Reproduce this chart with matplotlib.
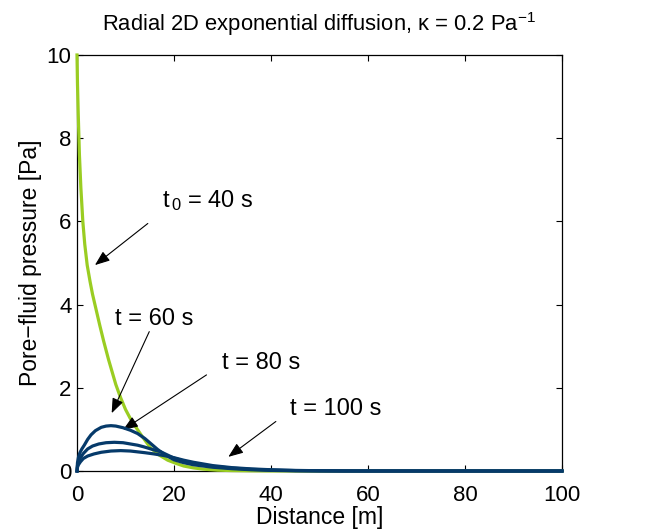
import matplotlib
matplotlib.use("Agg")
import matplotlib.pyplot as plt

# ─── Data ─────────────────────────────────────────────────────
green_x = [0, 0.1, 0.25, 0.5, 0.8, 1.2, 1.6, 2.1, 2.7, 3.2, 3.9,
           4.7, 5.5, 6.5, 8.0, 9.0, 10.0, 11.0, 12.1, 13.5, 15.2, 17.0, 18.7,
           20.5, 22.0, 24.0, 26.0, 29.0, 32.0, 36.0, 40.0, 50.0, 100.0]
green_y = [10.0, 9.3, 8.6, 7.6, 6.8, 6.0, 5.45, 4.95, 4.55, 4.25, 3.9,
           3.5, 3.12, 2.68, 2.08, 1.76, 1.48, 1.26, 1.06, 0.82, 0.55, 0.38, 0.26,
           0.18, 0.12, 0.075, 0.045, 0.02, 0.01, 0.004, 0.001, 0.0, 0.0]

t60_x = [0, 0.1, 0.3, 0.6, 1.0, 1.5, 2.2, 2.9, 3.8, 5.0, 6.0, 7.0, 8.0, 9.5,
         11.0, 12.5, 14.0, 15.5, 16.6, 18.0, 20.0, 22.0, 24.0, 28.0, 32.0,
         36.0, 40.0, 45.0, 55.0, 100.0]
t60_y = [0.0, 0.2, 0.33, 0.44, 0.53, 0.62, 0.76, 0.87, 0.97, 1.05, 1.08, 1.09,
         1.08, 1.04, 0.98, 0.9, 0.78, 0.63, 0.52, 0.4, 0.27, 0.2, 0.15, 0.09,
         0.055, 0.03, 0.015, 0.005, 0.0, 0.0]

t80_x = [0, 0.1, 0.3, 0.7, 1.3, 2.2, 3.2, 4.5, 6.0, 7.7, 9.5, 11.0, 12.5, 13.8,
         15.5, 17.3, 20.0, 22.0, 24.0, 28.0, 32.0, 36.0, 40.0, 45.0, 55.0, 100.0]
t80_y = [0.0, 0.13, 0.22, 0.32, 0.42, 0.53, 0.6, 0.65, 0.68, 0.69, 0.68, 0.65,
         0.62, 0.58, 0.52, 0.46, 0.31, 0.24, 0.18, 0.11, 0.07, 0.04, 0.022,
         0.01, 0.001, 0.0]

t100_x = [0, 0.1, 0.3, 0.7, 1.3, 2.2, 3.5, 5.0, 7.0, 9.0, 11.0, 12.5, 14.0,
          15.9, 18.0, 20.0, 22.0, 24.0, 28.0, 32.0, 36.0, 40.0, 45.0, 50.0,
          60.0, 100.0]
t100_y = [0.0, 0.09, 0.15, 0.22, 0.3, 0.36, 0.41, 0.45, 0.48, 0.49, 0.48, 0.46,
          0.44, 0.41, 0.37, 0.32, 0.26, 0.21, 0.13, 0.08, 0.05, 0.03, 0.014,
          0.006, 0.001, 0.0]

# labels: (text, text x, text baseline y, arrow start, arrow tip)
labels = [
    ("t$_{\\,0}$ = 40 s", 17.5, 6.35, (14.6, 5.95), (3.7, 4.95)),
    ("t = 60 s",          7.8,  3.51, (14.9, 3.35), (7.15, 1.39)),
    ("t = 80 s",          29.8, 2.44, (26.7, 2.31), (9.5, 0.99)),
    ("t = 100 s",         43.9, 1.35, (41.0, 1.19), (31.2, 0.34)),
]

GREEN = "#9ACD22"
BLUE = "#063A6A"

plt.rcParams.update({
    "font.family": ["Liberation Sans", "DejaVu Sans"],
    "mathtext.fontset": "custom",
    "mathtext.rm": "Liberation Sans",
    "mathtext.it": "Liberation Sans",
    "font.size": 16,
    "xtick.direction": "in",
    "ytick.direction": "in",
    "xtick.top": True,
    "ytick.right": True,
    "xtick.major.size": 4,
    "ytick.major.size": 4,
    "axes.linewidth": 0.9,
})

fig = plt.figure(figsize=(6.45, 5.29), dpi=100)
ax = fig.add_axes([77 / 645, 58 / 529, 485 / 645, 416 / 529])

ax.plot(green_x, green_y, color=GREEN, lw=2.3, clip_on=False, zorder=3)
for xs, ys in ((t60_x, t60_y), (t80_x, t80_y), (t100_x, t100_y)):
    ax.plot(xs, ys, color=BLUE, lw=2.3, clip_on=False, zorder=4)

for txt, tx, ty, start, tip in labels:
    ax.text(tx, ty, txt, fontsize=17, va="baseline", ha="left")
    ax.annotate("", xy=tip, xytext=start,
                arrowprops=dict(arrowstyle="-|>,head_length=0.9,head_width=0.35",
                                mutation_scale=10, lw=0.8, color="k",
                                shrinkA=0, shrinkB=0))

ax.set_xlim(0, 100)
ax.set_ylim(0, 10)
ax.set_xticks([0, 20, 40, 60, 80, 100])
ax.set_yticks([0, 2, 4, 6, 8, 10])
ax.tick_params(axis="x", labelsize=16, pad=10)
ax.tick_params(axis="y", labelsize=16, pad=4)
ax.set_xlabel("Distance [m]", fontsize=16.5, labelpad=0)
ax.set_ylabel("Pore\u2212fluid pressure [Pa]", fontsize=16.5, labelpad=3)
ax.set_title("Radial 2D exponential diffusion, \u03ba = 0.2 Pa$^{\u22121}$",
             fontsize=15.8, pad=17)

fig.savefig("out.png", dpi=100)
